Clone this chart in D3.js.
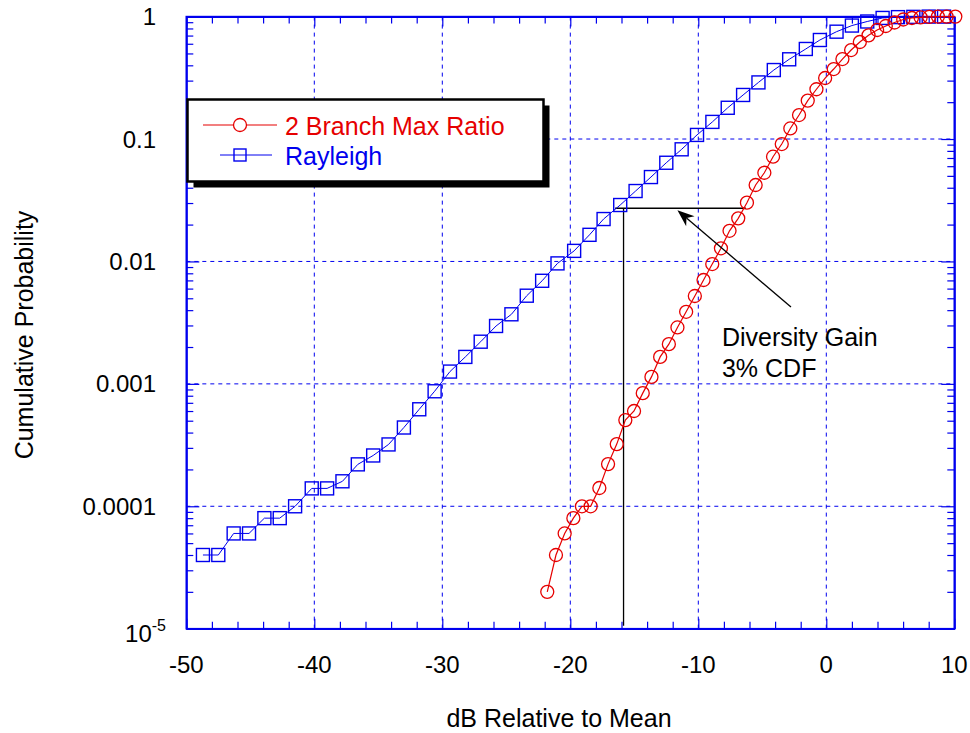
<!DOCTYPE html>
<html>
<head>
<meta charset="utf-8">
<script src="https://cdn.jsdelivr.net/npm/d3@7"></script>
<style>
  html, body { margin: 0; padding: 0; background: #fff; }
  svg { display: block; }
  text { font-family: "Liberation Sans", Arial, Helvetica, sans-serif; }
</style>
</head>
<body>
<svg id="chart" width="970" height="733"></svg>
<script>
// ---------------- DATA ----------------
const rayleighDb = [-48.7,-47.5,-46.3,-45.1,-43.9,-42.7,-41.5,-40.2,-39.0,-37.8,-36.6,-35.4,-34.2,-33.0,-31.8,-30.6,
  -29.4,-28.2,-27.0,-25.8,-24.6,-23.4,-22.2,-21.0,-19.7,-18.5,-17.4,-16.1,-14.9,-13.7,-12.5,-11.3,
  -10.1,-8.9,-7.7,-6.5,-5.3,-4.1,-2.9,-1.6,-0.5,0.8,2.0,3.2,4.4,5.6,6.8,8.0,9.2];
const rayleighP = [4e-5,4e-5,6e-5,6e-5,8e-5,8e-5,1e-4,1.4e-4,1.4e-4,1.6e-4,2.2e-4,2.6e-4,3.2e-4,4.4e-4,6.2e-4,8.7e-4,
  1.26e-3,1.66e-3,2.21e-3,2.97e-3,3.7e-3,5.25e-3,6.95e-3,9.64e-3,1.22e-2,1.65e-2,2.22e-2,2.89e-2,3.76e-2,4.89e-2,6.4e-2,8.24e-2,
  0.108,0.138,0.180,0.229,0.290,0.366,0.448,0.544,0.644,0.753,0.845,0.912,0.975,0.99,0.995,1.0,1.0];

const mrcDb = [-21.80,-21.12,-20.44,-19.76,-19.09,-18.41,-17.73,-17.05,-16.37,-15.70,-15.02,-14.34,
  -13.66,-12.98,-12.30,-11.63,-10.95,-10.27,-9.59,-8.91,-8.23,-7.56,-6.88,-6.20,-5.52,-4.84,
  -4.16,-3.48,-2.81,-2.13,-1.45,-0.77,-0.09,0.58,1.26,1.94,2.62,3.30,3.97,4.65,5.33,6.01,6.69,7.37,8.04,8.72,9.40,10.08];
const mrcP = [2e-5,4e-5,6e-5,8e-5,1e-4,1e-4,1.41e-4,2.21e-4,3.22e-4,5.06e-4,6.0e-4,8.4e-4,
  1.14e-3,1.66e-3,2.11e-3,2.89e-3,3.88e-3,5.22e-3,7.05e-3,9.52e-3,1.28e-2,1.78e-2,2.25e-2,3.02e-2,4.21e-2,5.3e-2,
  7.17e-2,9.1e-2,0.122,0.157,0.206,0.255,0.315,0.373,0.45,0.533,0.62,0.703,0.777,0.838,0.895,0.947,0.974,0.985,0.993,1.0,1.0,1.0];

const xTicks = [-50,-40,-30,-20,-10,0,10];
const xTickLabels = ["-50","-40","-30","-20","-10","0","10"];
const yTicks = [1,0.1,0.01,0.001,0.0001,0.00001];
const yTickLabels = ["1","0.1","0.01","0.001","0.0001","10|-5"];

const seriesNames = ["2 Branch Max Ratio","Rayleigh"];
const xTitle = "dB Relative to Mean";
const yTitle = "Cumulative Probability";
const noteLines = ["Diversity Gain","3% CDF"];
// annotation (data units)
const cdfLevel = 0.0272;
const gainFrom = -16.5, gainTo = -6.27, dropX = -15.84;
const arrowTip = [-11.63, 0.0262], arrowTail = [-2.76, 0.00424];
const notePos = [-8.15, 0.00204];

// ---------------- CHART ----------------
const svg = d3.select("#chart");
const W = 970, H = 733;
svg.append("rect").attr("width", W).attr("height", H).attr("fill", "#fff");

const x = d3.scaleLinear().domain([-50, 10]).range([186.3, 954.3]);
const y = d3.scaleLog().domain([1e-5, 1]).range([628.7, 16.6]);
const [x0, x1] = x.range();
const [y0, y1] = y.range();

const BLUE = "#0000ee", RED = "#e60000";

// grid
const grid = svg.append("g");
xTicks.filter(t => t > -50 && t < 10).forEach(t => {
  grid.append("line").attr("x1", x(t)).attr("x2", x(t)).attr("y1", y1).attr("y2", y0)
    .attr("stroke", BLUE).attr("stroke-width", 1).attr("stroke-dasharray", "4,4");
});
yTicks.filter(t => t < 1 && t > 1e-5).forEach(t => {
  grid.append("line").attr("x1", x0).attr("x2", x1).attr("y1", y(t)).attr("y2", y(t))
    .attr("stroke", BLUE).attr("stroke-width", 1).attr("stroke-dasharray", "4,4");
});

// axes via d3 axis generators (ticks inward)
const minorX = d3.range(-48, 10, 2).filter(v => v % 10 !== 0);
const minorY = [];
for (let e = -5; e < 0; e++) for (let k = 2; k <= 9; k++) minorY.push(k * Math.pow(10, e));

function styleAxis(g) {
  g.selectAll("path").attr("stroke", BLUE).attr("stroke-width", 1.6);
  g.selectAll("line").attr("stroke", BLUE).attr("stroke-width", 1.2);
  g.selectAll("text").remove();
}
svg.append("g").attr("transform", `translate(0,${y0})`)
  .call(d3.axisBottom(x).tickValues(minorX).tickSize(-7).tickSizeOuter(0)).call(styleAxis);
svg.append("g").attr("transform", `translate(0,${y1})`)
  .call(d3.axisTop(x).tickValues(minorX).tickSize(-7).tickSizeOuter(0)).call(styleAxis);
svg.append("g").attr("transform", `translate(${x0},0)`)
  .call(d3.axisLeft(y).tickValues(minorY).tickSize(-7).tickSizeOuter(0)).call(styleAxis);
svg.append("g").attr("transform", `translate(${x1},0)`)
  .call(d3.axisRight(y).tickValues(minorY).tickSize(-7).tickSizeOuter(0)).call(styleAxis);
// major ticks left/right
svg.append("g").attr("transform", `translate(${x0},0)`)
  .call(d3.axisLeft(y).tickValues(yTicks).tickSize(-13).tickSizeOuter(0)).call(styleAxis);
svg.append("g").attr("transform", `translate(${x1},0)`)
  .call(d3.axisRight(y).tickValues(yTicks).tickSize(-13).tickSizeOuter(0)).call(styleAxis);
svg.append("g").attr("transform", `translate(0,${y0})`)
  .call(d3.axisBottom(x).tickValues(xTicks).tickSize(-10).tickSizeOuter(0)).call(styleAxis);
svg.append("g").attr("transform", `translate(0,${y1})`)
  .call(d3.axisTop(x).tickValues(xTicks).tickSize(-10).tickSizeOuter(0)).call(styleAxis);

// frame
svg.append("rect").attr("x", x0).attr("y", y1).attr("width", x1 - x0).attr("height", y0 - y1)
  .attr("fill", "none").attr("stroke", BLUE).attr("stroke-width", 1.6);

// tick labels
const tl = svg.append("g").attr("font-size", 24).attr("fill", "#000");
xTicks.forEach((t, i) => {
  tl.append("text").attr("x", x(t)).attr("y", y0 + 44).attr("text-anchor", "middle").text(xTickLabels[i]);
});
yTicks.forEach((t, i) => {
  const lab = yTickLabels[i];
  if (lab.includes("|")) {
    const [base, exp] = lab.split("|");
    const tx = tl.append("text").attr("x", 166).attr("y", y(t) + 13).attr("text-anchor", "end");
    tx.append("tspan").text(base);
    tx.append("tspan").attr("font-size", 16).attr("dy", -11).text(exp);
  } else {
    tl.append("text").attr("x", 156).attr("y", y(t) + 8.5).attr("text-anchor", "end").text(lab);
  }
});

// axis titles
svg.append("text").attr("x", 559).attr("y", 727).attr("text-anchor", "middle")
  .attr("font-size", 25).text(xTitle);
svg.append("text").attr("transform", `translate(33,335) rotate(-90)`).attr("text-anchor", "middle")
  .attr("font-size", 25).text(yTitle);

// annotation lines
const ann = svg.append("g").attr("stroke", "#000").attr("stroke-width", 1.3);
ann.append("line").attr("x1", x(gainFrom)).attr("x2", x(gainTo)).attr("y1", y(cdfLevel)).attr("y2", y(cdfLevel));
ann.append("line").attr("x1", x(dropX)).attr("x2", x(dropX)).attr("y1", y(cdfLevel)).attr("y2", y0 - 3);

// series
const ray = rayleighDb.map((d, i) => [d, rayleighP[i]]);
const mrc = mrcDb.map((d, i) => [d, mrcP[i]]);
const line = d3.line().x(d => x(d[0])).y(d => y(d[1]));

svg.append("path").datum(ray).attr("d", line).attr("fill", "none").attr("stroke", BLUE).attr("stroke-width", 1);
svg.append("g").selectAll("rect").data(ray).join("rect")
  .attr("x", d => x(d[0]) - 6.5).attr("y", d => y(d[1]) - 6.5).attr("width", 13).attr("height", 13)
  .attr("fill", "none").attr("stroke", BLUE).attr("stroke-width", 1.4);

svg.append("path").datum(mrc).attr("d", line).attr("fill", "none").attr("stroke", RED).attr("stroke-width", 1.2);
svg.append("g").selectAll("circle").data(mrc).join("circle")
  .attr("cx", d => x(d[0])).attr("cy", d => y(d[1])).attr("r", 6.5)
  .attr("fill", "none").attr("stroke", RED).attr("stroke-width", 1.3);

// arrow
const tip = [x(arrowTip[0]), y(arrowTip[1])], tail = [x(arrowTail[0]), y(arrowTail[1])];
const ang = Math.atan2(tail[1] - tip[1], tail[0] - tip[0]);
const L = 17, Wd = 6.5;
const bx = tip[0] + L * Math.cos(ang), by = tip[1] + L * Math.sin(ang);
const inner = [tip[0] + L * 0.7 * Math.cos(ang), tip[1] + L * 0.7 * Math.sin(ang)];
svg.append("line").attr("x1", inner[0]).attr("y1", inner[1]).attr("x2", tail[0]).attr("y2", tail[1])
  .attr("stroke", "#000").attr("stroke-width", 1.3);
svg.append("path").attr("d", `M${tip[0]},${tip[1]} L${bx - Wd * Math.sin(ang)},${by + Wd * Math.cos(ang)} L${inner[0]},${inner[1]} L${bx + Wd * Math.sin(ang)},${by - Wd * Math.cos(ang)} Z`)
  .attr("fill", "#000");

// note text
const nt = svg.append("text").attr("font-size", 25).attr("fill", "#000");
noteLines.forEach((s, i) => {
  nt.append("tspan").attr("x", x(notePos[0])).attr("y", y(notePos[1]) + i * 31).text(s);
});

// legend
const lg = svg.append("g");
const lx = 187.5, ly = 99.5, lw = 356, lh = 82;
lg.append("rect").attr("x", lx + 6).attr("y", ly + 6).attr("width", lw).attr("height", lh).attr("fill", "#000");
lg.append("rect").attr("x", lx).attr("y", ly).attr("width", lw).attr("height", lh)
  .attr("fill", "#fff").attr("stroke", "#000").attr("stroke-width", 2.5);
// entry 1
lg.append("line").attr("x1", 203).attr("x2", 277).attr("y1", 125).attr("y2", 125).attr("stroke", RED).attr("stroke-width", 1.2);
lg.append("circle").attr("cx", 240).attr("cy", 125).attr("r", 6.5).attr("fill", "#fff").attr("stroke", RED).attr("stroke-width", 1.3);
lg.append("text").attr("x", 285).attr("y", 135).attr("font-size", 25).attr("fill", RED).text(seriesNames[0]);
// entry 2
lg.append("line").attr("x1", 220).attr("x2", 272).attr("y1", 155).attr("y2", 155).attr("stroke", BLUE).attr("stroke-width", 1);
lg.append("rect").attr("x", 234).attr("y", 149).attr("width", 12).attr("height", 12).attr("fill", "none").attr("stroke", BLUE).attr("stroke-width", 1.4);
lg.append("text").attr("x", 285).attr("y", 165).attr("font-size", 25).attr("fill", BLUE).text(seriesNames[1]);
</script>
</body>
</html>
